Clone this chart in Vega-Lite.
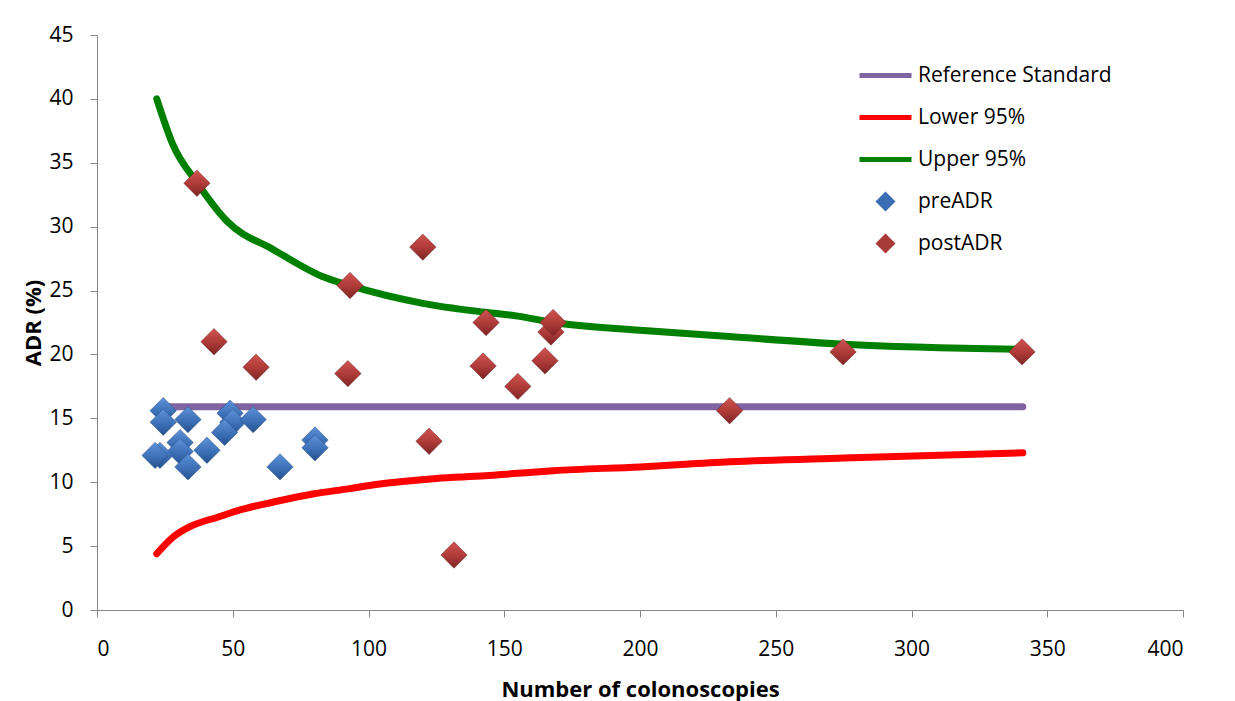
{
  "$schema": "https://vega.github.io/schema/vega-lite/v6.json",
  "width": 1086,
  "height": 575,
  "autosize": {"type": "none"},
  "padding": {"left": 97, "top": 35, "right": 52, "bottom": 91},
  "background": "white",
  "config": {
    "view": {"stroke": null},
    "font": "Open Sans",
    "axis": {"grid": false, "domainColor": "#868686", "tickColor": "#868686", "labelColor": "#000", "titleColor": "#000", "labelFont": "Open Sans", "titleFont": "Open Sans", "labelFontSize": 21, "titleFontSize": 22, "titleFontWeight": "bold"}
  },
  "datasets": {
    "d": [
      {"series": "Reference Standard", "x": 23, "y": 15.9},
      {"series": "Reference Standard", "x": 341, "y": 15.9},
      {"series": "Lower 95%", "x": 22, "y": 4.4},
      {"series": "Lower 95%", "x": 28, "y": 5.7},
      {"series": "Lower 95%", "x": 34, "y": 6.5},
      {"series": "Lower 95%", "x": 45, "y": 7.3},
      {"series": "Lower 95%", "x": 53, "y": 7.85},
      {"series": "Lower 95%", "x": 65, "y": 8.45},
      {"series": "Lower 95%", "x": 80, "y": 9.1},
      {"series": "Lower 95%", "x": 93, "y": 9.5},
      {"series": "Lower 95%", "x": 102, "y": 9.8},
      {"series": "Lower 95%", "x": 125, "y": 10.3},
      {"series": "Lower 95%", "x": 143, "y": 10.5},
      {"series": "Lower 95%", "x": 155, "y": 10.7},
      {"series": "Lower 95%", "x": 168, "y": 10.9},
      {"series": "Lower 95%", "x": 200, "y": 11.2},
      {"series": "Lower 95%", "x": 233, "y": 11.6},
      {"series": "Lower 95%", "x": 275, "y": 11.9},
      {"series": "Lower 95%", "x": 341, "y": 12.3},
      {"series": "Upper 95%", "x": 22, "y": 40.0},
      {"series": "Upper 95%", "x": 28, "y": 36.4},
      {"series": "Upper 95%", "x": 37, "y": 33.4},
      {"series": "Upper 95%", "x": 48, "y": 30.4},
      {"series": "Upper 95%", "x": 65, "y": 28.2},
      {"series": "Upper 95%", "x": 83, "y": 26.1},
      {"series": "Upper 95%", "x": 93, "y": 25.4},
      {"series": "Upper 95%", "x": 120, "y": 24.0},
      {"series": "Upper 95%", "x": 143, "y": 23.3},
      {"series": "Upper 95%", "x": 155, "y": 23.0},
      {"series": "Upper 95%", "x": 168, "y": 22.5},
      {"series": "Upper 95%", "x": 200, "y": 21.9},
      {"series": "Upper 95%", "x": 233, "y": 21.4},
      {"series": "Upper 95%", "x": 275, "y": 20.8},
      {"series": "Upper 95%", "x": 341, "y": 20.4},
      {"series": "preADR", "x": 24.4, "y": 15.6},
      {"series": "preADR", "x": 24.4, "y": 14.7},
      {"series": "preADR", "x": 33.5, "y": 14.9},
      {"series": "preADR", "x": 49, "y": 15.4},
      {"series": "preADR", "x": 50, "y": 14.7},
      {"series": "preADR", "x": 57.5, "y": 14.9},
      {"series": "preADR", "x": 47, "y": 13.9},
      {"series": "preADR", "x": 30.6, "y": 13.1},
      {"series": "preADR", "x": 30.6, "y": 12.4},
      {"series": "preADR", "x": 23.2, "y": 12.1},
      {"series": "preADR", "x": 21.4, "y": 12.1},
      {"series": "preADR", "x": 40.5, "y": 12.5},
      {"series": "preADR", "x": 33.5, "y": 11.2},
      {"series": "preADR", "x": 67.4, "y": 11.2},
      {"series": "preADR", "x": 80.3, "y": 13.3},
      {"series": "preADR", "x": 80.3, "y": 12.7},
      {"series": "postADR", "x": 36.8, "y": 33.4},
      {"series": "postADR", "x": 43.1, "y": 21.0},
      {"series": "postADR", "x": 58.6, "y": 19.0},
      {"series": "postADR", "x": 93.2, "y": 25.4},
      {"series": "postADR", "x": 92.4, "y": 18.5},
      {"series": "postADR", "x": 120, "y": 28.4},
      {"series": "postADR", "x": 122.3, "y": 13.2},
      {"series": "postADR", "x": 131.5, "y": 4.3},
      {"series": "postADR", "x": 143.3, "y": 22.5},
      {"series": "postADR", "x": 142.2, "y": 19.1},
      {"series": "postADR", "x": 155, "y": 17.5},
      {"series": "postADR", "x": 165, "y": 19.5},
      {"series": "postADR", "x": 167.2, "y": 21.75},
      {"series": "postADR", "x": 168, "y": 22.5},
      {"series": "postADR", "x": 233, "y": 15.6},
      {"series": "postADR", "x": 274.8, "y": 20.2},
      {"series": "postADR", "x": 340.7, "y": 20.2}
    ]
  },
  "data": {"name": "d"},
  "encoding": {
    "x": {"field": "x", "type": "quantitative", "scale": {"domain": [0, 400], "nice": false}, "axis": {"values": [0,50,100,150,200,250,300,350,400], "title": "Number of colonoscopies", "tickSize": 7, "labelPadding": 21, "titlePadding": 20}},
    "y": {"field": "y", "type": "quantitative", "scale": {"domain": [0, 45], "nice": false}, "axis": {"values": [0,5,10,15,20,25,30,35,40,45], "title": "ADR (%)", "tickSize": 7, "labelPadding": 17, "titlePadding": 3}}
  },
  "layer": [
    {
      "transform": [{"filter": "datum.series !== 'preADR' && datum.series !== 'postADR'"}],
      "mark": {"type": "line", "strokeWidth": 7, "interpolate": "monotone", "strokeCap": "round"},
      "encoding": {
        "color": {
          "field": "series", "type": "nominal",
          "scale": {"domain": ["Reference Standard", "Lower 95%", "Upper 95%", "preADR", "postADR"], "range": ["#8064A2", "#FF0000", "#008000", "#3A6DB3", "#A83A3A"]},
          "legend": {
            "title": null, "orient": "none", "legendX": 762, "legendY": 30, "labelFontSize": 21, "labelFont": "Open Sans", "labelColor": "#000", "labelLimit": 400, "rowPadding": 20, "symbolSize": 400, "labelOffset": 38,
            "encode": {"symbols": {"update": {"stroke": {"signal": "scale('color', datum.value)"}, "fill": {"signal": "scale('color', datum.value)"}, "strokeWidth": {"signal": "datum.value === 'preADR' || datum.value === 'postADR' ? 0 : 5"}, "opacity": {"value": 1}}}}
          }
        },
        "shape": {"field": "series", "type": "nominal", "scale": {"domain": ["Reference Standard", "Lower 95%", "Upper 95%", "preADR", "postADR"], "range": ["M-1,0H4.2", "M-1,0H4.2", "M-1,0H4.2", "M0.6,0L1.6,-1L2.6,0L1.6,1Z", "M0.6,0L1.6,-1L2.6,0L1.6,1Z"]}, "legend": {"title": null}},
        "order": {"field": "x", "type": "quantitative"}
      }
    },
    {
      "transform": [{"filter": "datum.series === 'preADR'"}],
      "mark": {"type": "point", "shape": "diamond", "filled": true, "size": 700, "opacity": 1, "strokeWidth": 0.8, "stroke": "#1d3f70", "strokeOpacity": 0.5,
        "fill": {"gradient": "linear", "x1": 0, "y1": 0, "x2": 0, "y2": 1, "stops": [{"offset": 0, "color": "#5d92d8"}, {"offset": 0.5, "color": "#3f74bb"}, {"offset": 1, "color": "#24518f"}]}},
      "encoding": {}
    },
    {
      "transform": [{"filter": "datum.series === 'postADR'"}],
      "mark": {"type": "point", "shape": "diamond", "filled": true, "size": 700, "opacity": 1, "strokeWidth": 0.8, "stroke": "#5a1a1a", "strokeOpacity": 0.5,
        "fill": {"gradient": "linear", "x1": 0, "y1": 0, "x2": 0, "y2": 1, "stops": [{"offset": 0, "color": "#d05350"}, {"offset": 0.5, "color": "#b03c3a"}, {"offset": 1, "color": "#7e2524"}]}},
      "encoding": {}
    }
  ]
}
